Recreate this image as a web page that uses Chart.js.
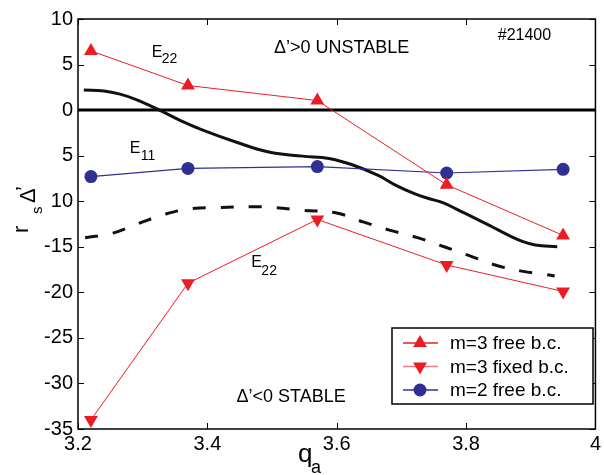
<!DOCTYPE html>
<html>
<head>
<meta charset="utf-8">
<script src="https://cdn.jsdelivr.net/npm/chart.js@4.4.0/dist/chart.umd.min.js"></script>
<style>
  html, body { margin: 0; padding: 0; background: #fff; }
  #wrap { width: 604px; height: 475px; }
</style>
</head>
<body>
<div id="wrap"><canvas id="deltaChart" width="604" height="475"></canvas></div>
<script>
// q_a values where the tearing-mode calculations were run
const qaPoints = [3.22, 3.37, 3.57, 3.77, 3.95];
const m3Free = [6.5, 2.7, 1.05, -8.2, -13.75];
const m3Fixed = [-34.0, -19.0, -12.0, -17.0, -19.9];
const m2Free = [-7.3, -6.4, -6.2, -6.9, -6.5];

// E11 (solid) and E22 (dashed) curves
const solidQa = [3.209, 3.24, 3.265, 3.290, 3.326, 3.357, 3.393, 3.444, 3.495, 3.547, 3.588, 3.624, 3.665,
                 3.690, 3.721, 3.742, 3.764, 3.789, 3.815, 3.840, 3.866, 3.887, 3.907, 3.941];
const solidVal = [2.2, 2.1, 1.75, 1.15, 0, -1.1, -2.2, -3.5, -4.6, -5.05, -5.3, -6.0, -7.2,
                  -8.2, -9.2, -9.7, -10.15, -11.0, -11.9, -12.8, -13.75, -14.4, -14.8, -15.0];
const dashQa = [3.211, 3.254, 3.295, 3.336, 3.377, 3.418, 3.465, 3.506, 3.547, 3.6,
                3.642, 3.683, 3.725, 3.766, 3.806, 3.845, 3.888, 3.92, 3.937];
const dashVal = [-14.0, -13.5, -12.4, -11.4, -10.8, -10.7, -10.6, -10.7, -11.0, -11.3,
                 -12.3, -13.2, -14.0, -15.0, -16.0, -17.0, -17.7, -18.0, -18.2];

const xTickText = ['3.2', '3.4', '3.6', '3.8', '4'];
const yTickValues = [10, 5, 0, -5, -10, -15, -20, -25, -30, -35];
const yTickText = ['10', '5', '0', '5', '10', '-15', '-20', '-25', '-30', '-35'];

const RED = '#ec1c24';
const RED_LIGHT = '#f07a7e';
const BLUE = '#2e3192';
const FONT = '"Liberation Sans", Arial, Helvetica, sans-serif';

function toPoints(xs, ys) {
    return xs.map((x, i) => ({ x: x, y: ys[i] }));
}

function textWithSub(ctx, main, sub, x, y, size, subSize, dx, dy) {
    ctx.font = size + 'px ' + FONT;
    ctx.fillText(main, x, y);
    ctx.font = subSize + 'px ' + FONT;
    ctx.fillText(sub, x + dx, y + dy);
}

// frame, inward ticks, zero line, labels and legend
const decorations = {
    id: 'decorations',
    beforeDatasetsDraw(chart) {
        const { ctx, chartArea: a, scales: { y } } = chart;
        const y0 = y.getPixelForValue(0);
        ctx.save();
        ctx.strokeStyle = '#000';
        ctx.lineWidth = 3;
        ctx.beginPath();
        ctx.moveTo(a.left, y0);
        ctx.lineTo(a.right, y0);
        ctx.stroke();
        ctx.restore();
    },
    afterDraw(chart) {
        const { ctx, chartArea: a, scales: { x, y } } = chart;
        ctx.save();
        ctx.strokeStyle = '#000';
        ctx.lineWidth = 1.5;
        ctx.strokeRect(a.left, a.top, a.right - a.left, a.bottom - a.top);

        const tl = 6;
        ctx.lineWidth = 1;
        ctx.beginPath();
        x.ticks.forEach(t => {
            const px = Math.round(x.getPixelForValue(t.value)) + 0.5;
            ctx.moveTo(px, a.bottom); ctx.lineTo(px, a.bottom - tl);
            ctx.moveTo(px, a.top); ctx.lineTo(px, a.top + tl);
        });
        y.ticks.forEach(t => {
            const py = Math.round(y.getPixelForValue(t.value)) + 0.5;
            ctx.moveTo(a.left, py); ctx.lineTo(a.left + tl, py);
            ctx.moveTo(a.right, py); ctx.lineTo(a.right - tl, py);
        });
        ctx.stroke();

        // region labels and curve names
        ctx.fillStyle = '#000';
        ctx.textAlign = 'left';
        ctx.textBaseline = 'alphabetic';
        const at = (q, v) => [x.getPixelForValue(q), y.getPixelForValue(v)];
        let p;
        ctx.font = '18px ' + FONT;
        p = at(3.503, 6.26); ctx.fillText('\u0394\u2019>0 UNSTABLE', p[0], p[1]);
        p = at(3.445, -32.05); ctx.fillText('\u0394\u2019<0 STABLE', p[0], p[1]);
        ctx.font = '16px ' + FONT;
        p = at(3.849, 7.68); ctx.fillText('#21400', p[0], p[1]);
        p = at(3.314, 5.82); textWithSub(ctx, 'E', '22', p[0], p[1], 16, 14, 10, 6);
        p = at(3.280, -4.72); textWithSub(ctx, 'E', '11', p[0], p[1], 16, 14, 11, 7);
        p = at(3.468, -17.23); textWithSub(ctx, 'E', '22', p[0], p[1], 16, 14, 10, 8);

        // axis titles
        textWithSub(ctx, 'q', 'a', a.left + 220, a.bottom + 33, 26, 18, 13, 11);
        ctx.save();
        ctx.translate(a.left - 50, a.top + 214);
        ctx.rotate(-Math.PI / 2);
        ctx.font = '22px ' + FONT;
        ctx.fillText('r', 0, 0);
        ctx.font = '15px ' + FONT;
        ctx.fillText('s', 19, 14);
        ctx.font = '22px ' + FONT;
        ctx.fillText('\u0394', 30, 7);
        ctx.fillText('\u2019', 42, 3);
        ctx.restore();

        // legend box
        const lx = 392, ly = 328, lw = 201, lh = 76;
        ctx.fillStyle = '#fff';
        ctx.fillRect(lx, ly, lw, lh);
        ctx.lineWidth = 1.5;
        ctx.strokeStyle = '#000';
        ctx.strokeRect(lx, ly, lw, lh);
        const rows = [
            { ds: 0, line: RED, rot: 0 },
            { ds: 1, line: RED_LIGHT, rot: 180 },
            { ds: 2, line: BLUE, rot: 0 }
        ];
        rows.forEach((r, i) => {
            const ds = chart.data.datasets[r.ds];
            const cy = ly + 15 + i * 23.5;
            ctx.strokeStyle = r.line;
            ctx.lineWidth = 1.5;
            ctx.beginPath();
            ctx.moveTo(lx + 11, cy); ctx.lineTo(lx + 46, cy);
            ctx.stroke();
            ctx.fillStyle = ds.backgroundColor;
            Chart.helpers.drawPoint(ctx, {
                pointStyle: ds.pointStyle, rotation: r.rot,
                radius: ds.pointRadius, borderWidth: 0
            }, lx + 28, cy);
            ctx.fillStyle = '#000';
            ctx.font = '19px ' + FONT;
            ctx.textBaseline = 'middle';
            ctx.fillText(ds.label, lx + 58, cy + 1);
            ctx.textBaseline = 'alphabetic';
        });
        ctx.restore();
    }
};

const canvas = document.getElementById('deltaChart');
new Chart(canvas.getContext('2d'), {
    type: 'scatter',
    data: {
        datasets: [
            {
                label: 'm=3 free b.c.',
                data: toPoints(qaPoints, m3Free),
                showLine: true,
                borderColor: RED,
                borderWidth: 1,
                backgroundColor: RED,
                pointStyle: 'triangle',
                pointRadius: 8,
                pointBorderWidth: 0
            },
            {
                label: 'm=3 fixed b.c.',
                data: toPoints(qaPoints, m3Fixed),
                showLine: true,
                borderColor: RED,
                borderWidth: 1,
                backgroundColor: RED,
                pointStyle: 'triangle',
                pointRotation: 180,
                pointRadius: 8,
                pointBorderWidth: 0
            },
            {
                label: 'm=2 free b.c.',
                data: toPoints(qaPoints, m2Free),
                showLine: true,
                borderColor: BLUE,
                borderWidth: 1.2,
                backgroundColor: BLUE,
                pointStyle: 'circle',
                pointRadius: 6.5,
                pointBorderWidth: 0
            },
            {
                label: 'E11',
                data: toPoints(solidQa, solidVal),
                showLine: true,
                borderColor: '#111',
                borderWidth: 3,
                pointRadius: 0,
                tension: 0.4
            },
            {
                label: 'E22',
                data: toPoints(dashQa, dashVal),
                showLine: true,
                borderColor: '#111',
                borderWidth: 3,
                borderDash: [13, 15],
                pointRadius: 0,
                tension: 0.4
            }
        ]
    },
    options: {
        responsive: false,
        animation: false,
        layout: { padding: { top: 19, right: 6, left: 0, bottom: 0 } },
        plugins: {
            legend: { display: false },
            tooltip: { enabled: false }
        },
        scales: {
            x: {
                type: 'linear',
                min: 3.2,
                max: 4,
                ticks: {
                    stepSize: 0.2,
                    autoSkip: false,
                    maxRotation: 0,
                    padding: 3,
                    color: '#000',
                    font: { family: FONT, size: 20 },
                    callback: (v, i) => xTickText[i]
                },
                grid: { display: false, drawTicks: false },
                border: { display: false },
                afterFit: s => { s.height = 46; }
            },
            y: {
                min: -35,
                max: 10,
                ticks: {
                    stepSize: 5,
                    padding: 5,
                    color: '#000',
                    font: { family: FONT, size: 20 },
                    callback: v => {
                        const i = yTickValues.indexOf(Math.round(v));
                        return i >= 0 ? yTickText[i] : '';
                    }
                },
                grid: { display: false, drawTicks: false },
                border: { display: false },
                afterFit: s => { s.width = 78; }
            }
        }
    },
    plugins: [decorations]
});
</script>
</body>
</html>
